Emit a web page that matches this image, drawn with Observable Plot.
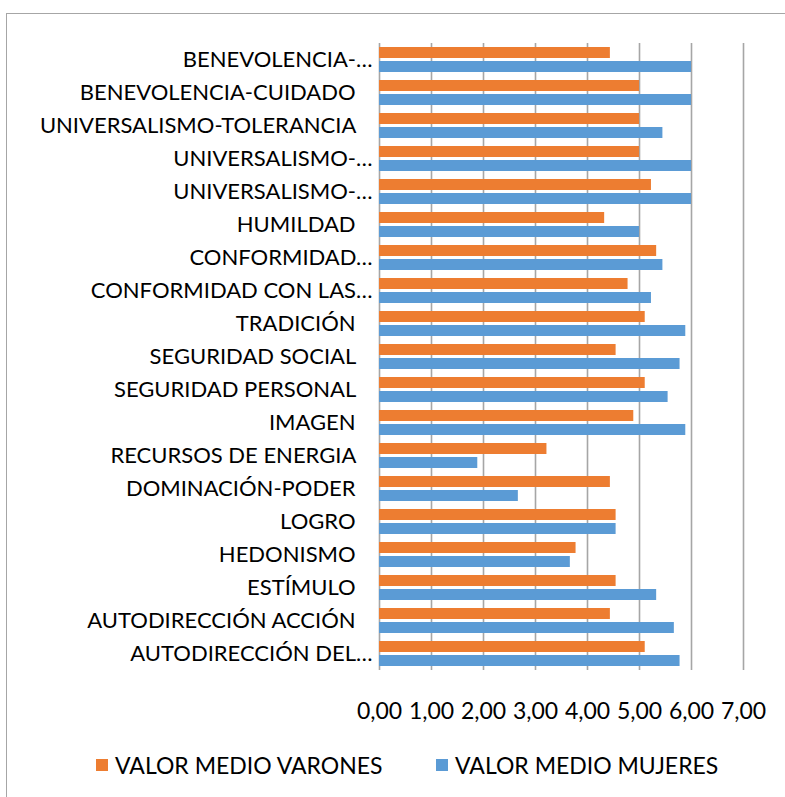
<!DOCTYPE html>
<html>
<head>
<meta charset="utf-8">
<script src="https://cdn.jsdelivr.net/npm/d3@7"></script>
<script src="https://cdn.jsdelivr.net/npm/@observablehq/plot@0.6"></script>
<style>
  html, body { margin: 0; padding: 0; overflow: hidden; background: #fff; width: 785px; height: 797px; }
  #frame { position: absolute; left: 6px; top: 13px; width: 900px; height: 900px; border: 1.5px solid #a6a6a6; box-sizing: border-box; }
  #chart { position: absolute; left: 0; top: 0; }
  #chart svg { background: transparent; }
  #legend { position: absolute; left: 0; top: 750px; width: 785px; height: 30px; font-family: Lato, sans-serif; font-size: 23px; color: #000; }
  .item { position: absolute; top: 0; display: flex; align-items: center; height: 30px; white-space: nowrap; }
  .sw { width: 12px; height: 12px; margin-right: 7px; }
</style>
</head>
<body>
<div id="frame"></div>
<div id="chart"></div>
<div id="legend"></div>
<script>
const categories = [
  "BENEVOLENCIA-…",
  "BENEVOLENCIA-CUIDADO\u00a0\u00a0\u00a0",
  "UNIVERSALISMO-TOLERANCIA\u00a0\u00a0\u00a0",
  "UNIVERSALISMO-…",
  "UNIVERSALISMO-…\u200b",
  "HUMILDAD\u00a0\u00a0\u00a0",
  "CONFORMIDAD…",
  "CONFORMIDAD CON LAS…",
  "TRADICIÓN\u00a0\u00a0\u00a0",
  "SEGURIDAD SOCIAL\u00a0\u00a0\u00a0",
  "SEGURIDAD PERSONAL\u00a0\u00a0\u00a0",
  "IMAGEN\u00a0\u00a0\u00a0",
  "RECURSOS DE ENERGIA\u00a0\u00a0\u00a0",
  "DOMINACIÓN-PODER\u00a0\u00a0\u00a0",
  "LOGRO\u00a0\u00a0\u00a0",
  "HEDONISMO\u00a0\u00a0\u00a0",
  "ESTÍMULO\u00a0\u00a0\u00a0",
  "AUTODIRECCIÓN ACCIÓN\u00a0\u00a0\u00a0",
  "AUTODIRECCIÓN DEL…"
];
const varones = [4.44, 5.00, 5.00, 5.00, 5.23, 4.33, 5.33, 4.78, 5.11, 4.55, 5.11, 4.89, 3.22, 4.44, 4.55, 3.78, 4.55, 4.44, 5.11];
const mujeres = [6.00, 6.00, 5.45, 6.00, 6.00, 5.00, 5.45, 5.23, 5.89, 5.78, 5.55, 5.89, 1.89, 2.67, 4.55, 3.67, 5.33, 5.67, 5.78];
const xTicks = [0, 1, 2, 3, 4, 5, 6, 7];
const seriesNames = ["VALOR MEDIO VARONES", "VALOR MEDIO MUJERES"];
const seriesColors = ["#ED7D31", "#5B9BD5"];

const rows = categories.map((c, i) => ({category: c, varones: varones[i], mujeres: mujeres[i]}));

const chart = Plot.plot({
  width: 785,
  height: 730,
  marginLeft: 379,
  marginRight: 42,
  marginTop: 43,
  marginBottom: 60,
  style: {fontFamily: "Lato, sans-serif", fontSize: "22px", color: "#000", background: "transparent"},
  x: {domain: [0, 7], ticks: xTicks},
  y: {domain: categories, padding: 0},
  marks: [
    Plot.ruleX(xTicks, {stroke: "#a6a6a6", strokeWidth: 1.6, strokeOpacity: 1}),
    Plot.barX(rows, {x: "varones", y: "category", fill: seriesColors[0], insetTop: 4, insetBottom: 18}),
    Plot.barX(rows, {x: "mujeres", y: "category", fill: seriesColors[1], insetTop: 18, insetBottom: 4}),
    Plot.axisY({tickSize: 0, tickPadding: 7, fontSize: 22, tickFormat: d => d, label: null}),
    Plot.axisX({ticks: xTicks, tickSize: 0, tickPadding: 32, fontSize: 23, tickFormat: d => d.toFixed(2).replace(".", ","), label: null})
  ]
});
document.getElementById("chart").appendChild(chart);

const legend = document.getElementById("legend");
const lefts = [96, 436];
seriesNames.forEach((name, i) => {
  const item = document.createElement("div");
  item.className = "item";
  item.style.left = lefts[i] + "px";
  const sw = document.createElement("span");
  sw.className = "sw";
  sw.style.background = seriesColors[i];
  const t = document.createElement("span");
  t.textContent = name;
  item.appendChild(sw);
  item.appendChild(t);
  legend.appendChild(item);
});
</script>
</body>
</html>
